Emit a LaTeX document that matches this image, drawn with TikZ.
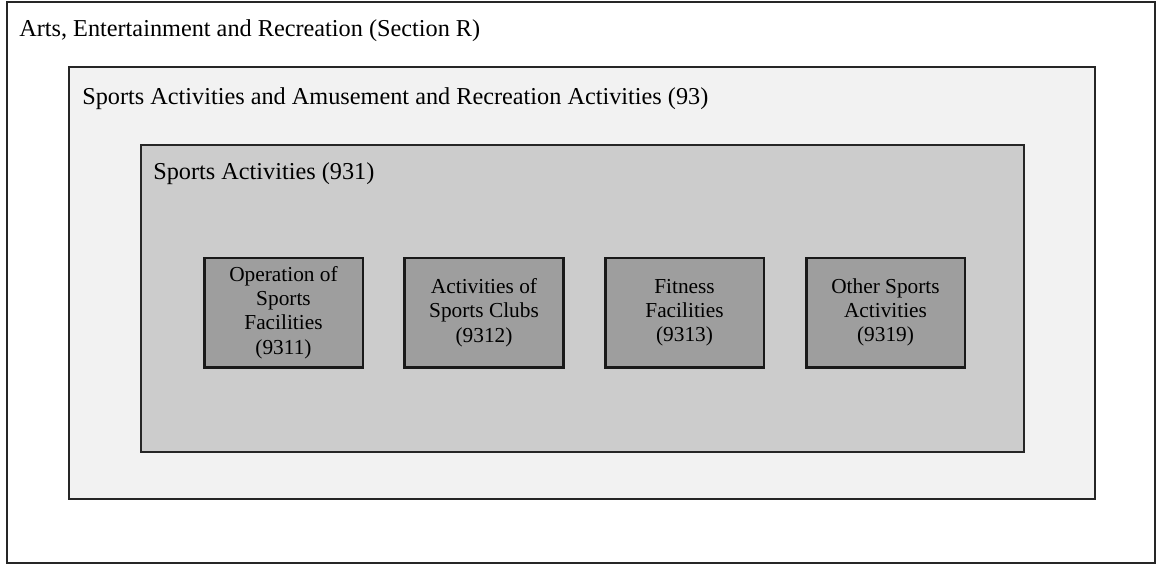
\documentclass[tikz,border=0pt]{standalone}
\usepackage{fontspec}
\setmainfont{Liberation Serif}
\begin{document}
\begin{tikzpicture}[x=0.75pt,y=-0.75pt,
  frame/.style={draw=black!85,line width=1.4pt},
  leaf/.style={draw=black!90,line width=2pt,fill=leafgray,inner sep=0pt,
    minimum width=119pt,minimum height=82pt,align=center,
    font=\fontsize{16}{18.2}\selectfont},
  heading/.style={anchor=west,inner sep=0pt,font=\fontsize{18.2}{20}\selectfont}]
\definecolor{lightgray2}{HTML}{F2F2F2}
\definecolor{midgray}{HTML}{CCCCCC}
\definecolor{leafgray}{HTML}{9E9E9E}
\useasboundingbox (0,0) rectangle (1157,565);
% nested classification levels
\draw[frame,fill=white] (7,2) rectangle (1155,563);
\draw[frame,fill=lightgray2] (69,67) rectangle (1095,499);
\draw[frame,fill=midgray] (141,145) rectangle (1024,452);
\node[heading] (sec) at (19,31) {Arts, Entertainment and Recreation (Section R)};
\node[heading] (div) at (82,99) {Sports Activities and Amusement and Recreation Activities (93)};
\node[heading] (grp) at (153,174) {Sports Activities (931)};
% four classes of group 931
\node[leaf] (c1) at (283.5,312.5) {Operation of\\Sports\\Facilities\\(9311)};
\node[leaf] (c2) at (484,312.5) {Activities of\\Sports Clubs\\(9312)};
\node[leaf] (c3) at (684.5,312.5) {Fitness\\Facilities\\(9313)};
\node[leaf] (c4) at (885.5,312.5) {Other Sports\\Activities\\(9319)};
\end{tikzpicture}
\end{document}
